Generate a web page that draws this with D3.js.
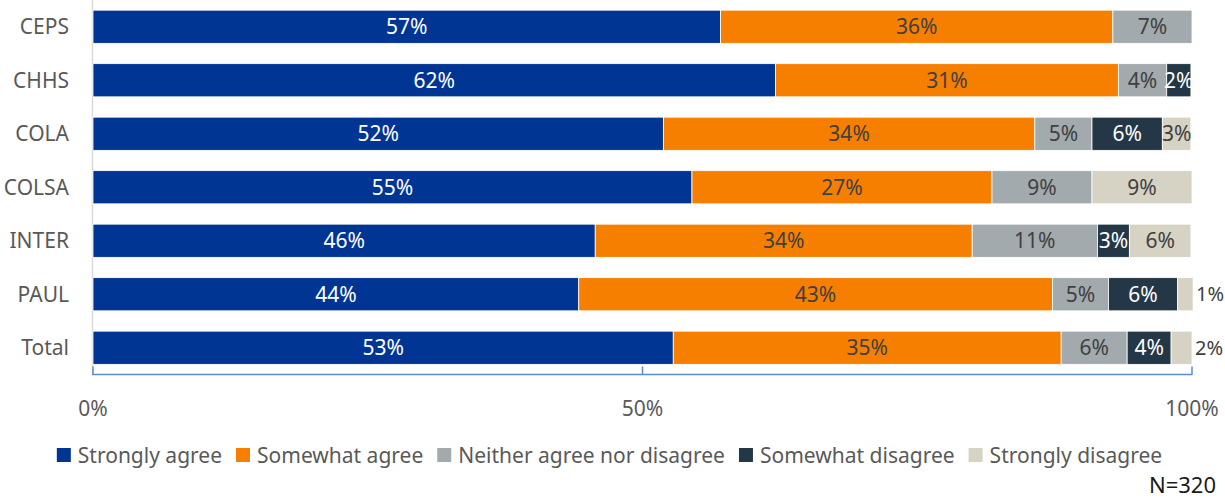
<!DOCTYPE html>
<html><head><meta charset="utf-8">
<script src="https://cdn.jsdelivr.net/npm/d3@7"></script>
<style>html,body{margin:0;padding:0;background:#fff;}svg{display:block;font-family:"Noto Sans","Open Sans",sans-serif;}</style>
</head><body>
<svg id="chart" width="1225" height="501"></svg>
<script>
const categories = ["CEPS","CHHS","COLA","COLSA","INTER","PAUL","Total"];
const seriesNames = ["Strongly agree","Somewhat agree","Neither agree nor disagree","Somewhat disagree","Strongly disagree"];
const stronglyAgree    = [57.1, 62.1, 51.9, 54.5, 45.7, 44.2, 52.8];
const somewhatAgree    = [35.7, 31.2, 33.8, 27.3, 34.3, 43.1, 35.3];
const neither          = [7.2, 4.4, 5.2, 9.1, 11.4, 5.1, 6.0];
const somewhatDisagree = [0, 2.2, 6.4, 0, 2.9, 6.3, 4.0];
const stronglyDisagree = [0, 0, 2.6, 9.1, 5.6, 1.4, 1.9];
const xTicks = [0, 50, 100];
const tickLabels = ["0%","50%","100%"];
const note = "N=320";

const colors = ["#003594","#f77f00","#a2aaad","#243746","#d6d2c4"];
const labelColors = ["#ffffff","#404040","#404040","#ffffff","#404040"];
const seriesVals = [stronglyAgree, somewhatAgree, neither, somewhatDisagree, stronglyDisagree];

const svg = d3.select("#chart");
const W = 1225;
const x = d3.scaleLinear().domain([0,100]).range([93,1192]);
const y = d3.scaleBand().domain(categories).range([0,374.5]).paddingInner(0.38).paddingOuter(0.19);

const rows = categories.map((c,i)=>{
  const o = {cat:c};
  seriesNames.forEach((s,j)=>o[s]=seriesVals[j][i]);
  return o;
});
const stacked = d3.stack().keys(seriesNames)(rows);

svg.append("line").attr("x1",92.5).attr("x2",92.5).attr("y1",0).attr("y2",374)
  .attr("stroke","#d9d9d9").attr("stroke-width",1.5);

stacked.forEach((layer,j)=>{
  const g = svg.append("g");
  g.selectAll("rect").data(layer.filter(d=>d[1]-d[0]>0)).enter().append("rect")
    .attr("x",d=>x(d[0])).attr("width",d=>x(d[1])-x(d[0]))
    .attr("y",d=>y(d.data.cat)).attr("height",y.bandwidth())
    .attr("fill",colors[j]).attr("stroke","#fff").attr("stroke-width",0.8);
});
stacked.forEach((layer,j)=>{
  const g = svg.append("g");
  layer.filter(d=>d[1]-d[0]>0).forEach(d=>{
    const v = d[1]-d[0];
    const outside = v < 2;
    g.append("text")
      .attr("x", outside ? x(d[1])+3 : (x(d[0])+x(d[1]))/2)
      .attr("y", y(d.data.cat)+y.bandwidth()/2)
      .attr("dy","0.36em")
      .attr("text-anchor", outside ? "start" : "middle")
      .attr("font-size", outside ? 20 : 21)
      .attr("fill", outside ? "#404040" : labelColors[j])
      .text(Math.round(v)+"%");
  });
});

svg.append("g").selectAll("text").data(categories).enter().append("text")
  .attr("x",69).attr("y",d=>y(d)+y.bandwidth()/2).attr("dy","0.36em")
  .attr("text-anchor","end").attr("font-size",21).attr("fill","#595959").text(d=>d);

const ax = svg.append("g").attr("transform","translate(0,374.5)");
ax.append("line").attr("x1",92).attr("x2",1192.5).attr("y1",0).attr("y2",0)
  .attr("stroke","#5b8ccf").attr("stroke-width",1.5);
ax.selectAll("line.t").data(xTicks).enter().append("line").attr("class","t")
  .attr("x1",d=>x(d)).attr("x2",d=>x(d)).attr("y1",0).attr("y2",-8)
  .attr("stroke","#5b8ccf").attr("stroke-width",1.5);
ax.selectAll("text").data(xTicks).enter().append("text")
  .attr("x",d=>x(d)).attr("y",34).attr("dy","0.36em").attr("text-anchor","middle")
  .attr("font-size",21).attr("fill","#595959").text((d,i)=>tickLabels[i]);

const leg = svg.append("g");
let cx = 0;
seriesNames.forEach((s,j)=>{
  const it = leg.append("g").attr("transform",`translate(${cx},0)`);
  it.append("rect").attr("x",0).attr("y",-7).attr("width",14).attr("height",14).attr("fill",colors[j]);
  const t = it.append("text").attr("x",21).attr("y",0).attr("dy","0.36em")
    .attr("font-size",21).attr("fill","#595959").text(s);
  cx += 21 + t.node().getComputedTextLength() + 14;
});
const legW = cx - 14;
leg.attr("transform",`translate(${(W-legW)/2-3},455)`);

svg.append("text").attr("x",1216).attr("y",485).attr("dy","0.36em").attr("text-anchor","end")
  .attr("font-size",22).attr("fill","#1a1a1a").text(note);
</script>
</body></html>
